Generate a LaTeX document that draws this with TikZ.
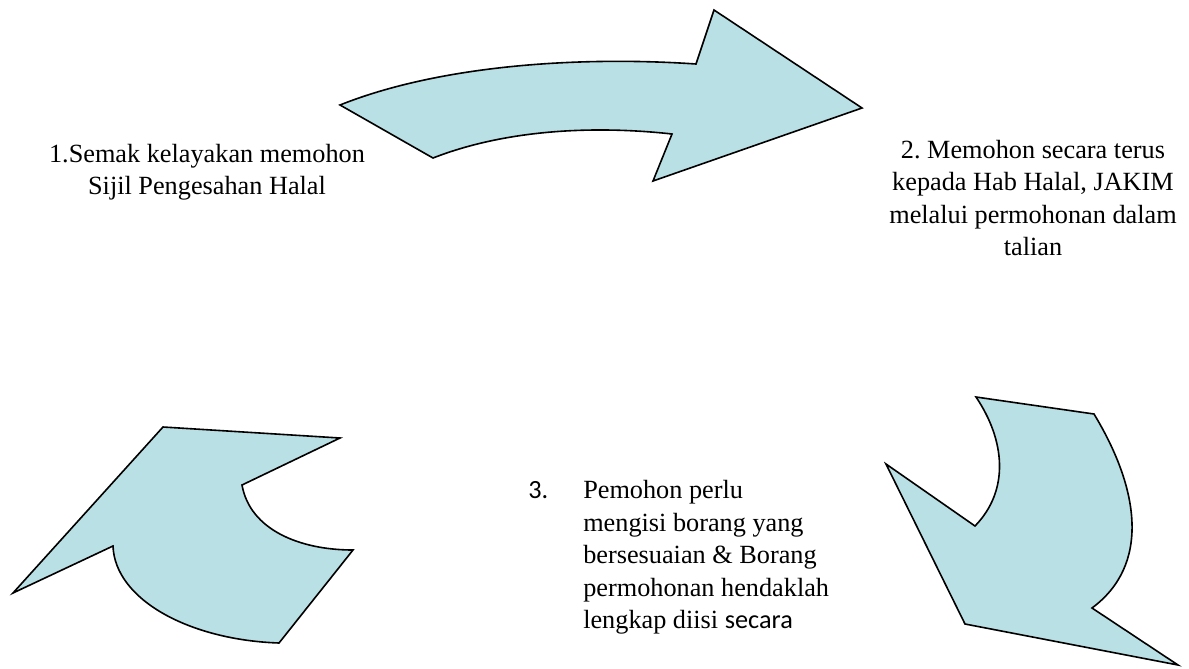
\documentclass[tikz,border=0pt]{standalone}
\usepackage{fontspec}
\setmainfont{Liberation Serif}
\newfontfamily\calibrifont{Carlito}
\definecolor{arrowfill}{RGB}{185,224,228}
\frenchspacing
\tikzset{
  bigarrow/.style={draw=black, fill=arrowfill, line width=1.2pt, line join=miter},
  label/.style={inner sep=0pt, font=\fontsize{19.7}{24.4}\selectfont},
}
\begin{document}
\begin{tikzpicture}[x=0.75pt, y=-0.75pt]
\useasboundingbox (0,0) rectangle (1189,668);
% top arrow
\draw[bigarrow] (340,105) .. controls (440,65) and (580,56) .. (696,64)
  -- (714,10) -- (862,108) -- (653,181) -- (672,134)
  .. controls (600,126) and (510,128) .. (433,158) -- cycle;
% bottom-left arrow
\draw[bigarrow] (163,427) -- (340,438) -- (242,485)
  .. controls (250,530) and (300,550) .. (353,550)
  -- (279,643) .. controls (190,640) and (115,600) .. (113,546)
  -- (13,593) -- cycle;
% bottom-right arrow
\draw[bigarrow] (976,397) -- (1094,414)
  .. controls (1140,490) and (1150,565) .. (1092,608)
  -- (1178,665) -- (965,624) -- (886,464) -- (975,526)
  .. controls (1010,490) and (1005,440) .. cycle;
% texts
\node[label, align=center] (t1) at (207,172) {1.Semak kelayakan memohon\\Sijil Pengesahan Halal};
\node[label, align=center] (t2) at (1033,198) {2. Memohon secara terus\\kepada Hab Halal, JAKIM\\melalui permohonan dalam\\talian};
\node[label, anchor=base west] (n3) at (528,498) {\calibrifont 3.};
\node[label, align=left, anchor=north west] (t3) at (583,480) {Pemohon perlu\\mengisi borang yang\\bersesuaian \& Borang\\permohonan hendaklah\\lengkap diisi {\calibrifont secara}};
\end{tikzpicture}
\end{document}
